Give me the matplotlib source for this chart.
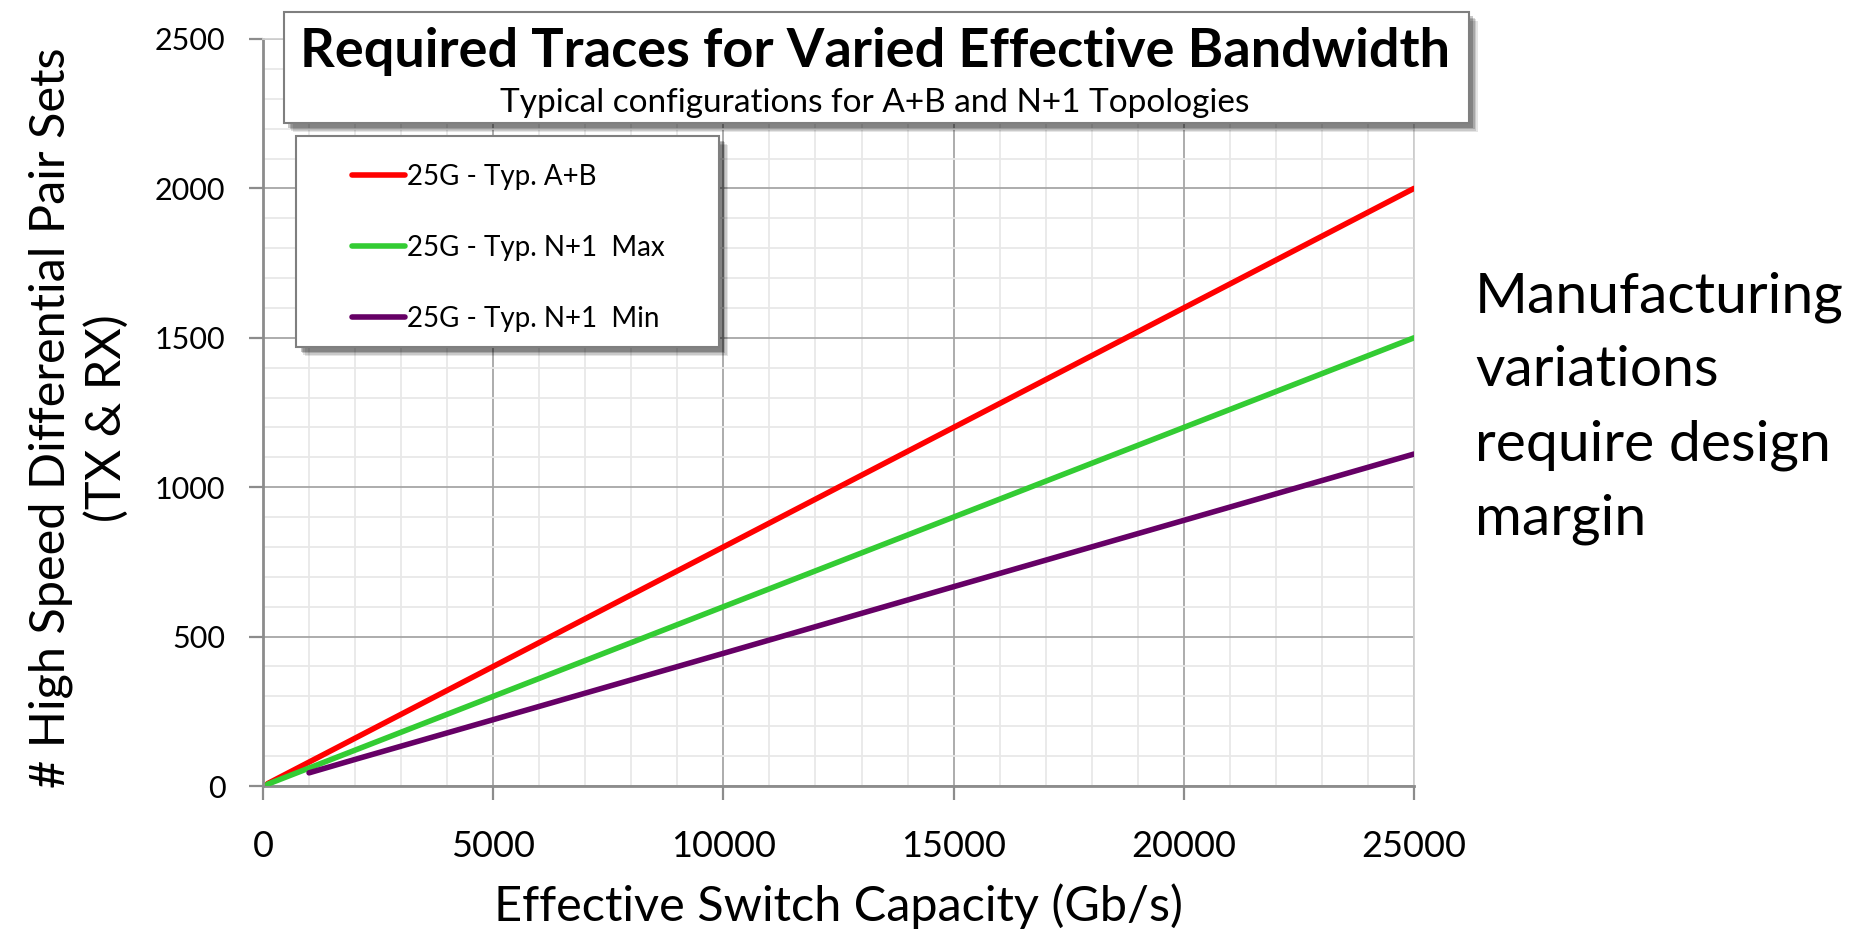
import matplotlib
matplotlib.use("Agg")
import matplotlib.pyplot as plt
from matplotlib.patches import Rectangle
from matplotlib.ticker import MultipleLocator

plt.rcParams['font.family'] = ['Lato', 'DejaVu Sans']

# switch capacity (Gb/s) vs. required differential pair sets
cap_ab = [100, 1000, 2000, 5000, 10000, 15000, 20000, 25000]
pairs_ab = [8, 80, 160, 400, 800, 1200, 1600, 2000]

cap_n1_max = [100, 1000, 2000, 5000, 10000, 15000, 20000, 25000]
pairs_n1_max = [6, 60, 120, 300, 600, 900, 1200, 1500]

cap_n1_min = [1000, 2000, 5000, 10000, 15000, 20000, 25000]
pairs_n1_min = [44, 89, 222, 444, 667, 889, 1111]

labels = ["25G - Typ. A+B", "25G - Typ. N+1  Max", "25G - Typ. N+1  Min"]
colors = ["#FF0000", "#33CC33", "#660066"]

W, H = 1858, 936
fig = plt.figure(figsize=(W / 100, H / 100), dpi=100)
ax = fig.add_axes([263 / W, 1 - 786 / H, (1414 - 263) / W, (786 - 39) / H])


def fig_box(x0, y0, x1, y1):
    # pixel box (top-left origin) -> figure fraction rectangle with soft shadow
    fx, fy = x0 / W, 1 - y1 / H
    fw, fh = (x1 - x0) / W, (y1 - y0) / H
    for i, a in enumerate([0.10, 0.12, 0.16, 0.22]):
        off = 9 - i * 1.5
        fig.patches.append(Rectangle((fx + off / W, fy - off / H), fw, fh,
                                     transform=fig.transFigure, facecolor="black",
                                     edgecolor="none", alpha=a, zorder=5))
    fig.patches.append(Rectangle((fx, fy), fw, fh, transform=fig.transFigure,
                                 facecolor="white", edgecolor="#7F7F7F",
                                 linewidth=1.5, zorder=6))


series = [(cap_ab, pairs_ab), (cap_n1_max, pairs_n1_max), (cap_n1_min, pairs_n1_min)]
handles = []
for (xs, ys), lab, col in zip(series, labels, colors):
    h, = ax.plot(xs, ys, color=col, lw=4, solid_capstyle="round", label=lab, zorder=3)
    handles.append(h)

ax.set_xlim(0, 25000)
ax.set_ylim(0, 2500)
ax.xaxis.set_major_locator(MultipleLocator(5000))
ax.xaxis.set_minor_locator(MultipleLocator(1000))
ax.yaxis.set_major_locator(MultipleLocator(500))
ax.yaxis.set_minor_locator(MultipleLocator(100))
ax.grid(which="major", color="#A6A6A6", lw=1.3)
ax.grid(which="minor", color="#E8E8E8", lw=1.3)
ax.set_axisbelow(True)

for s in ["left", "bottom"]:
    ax.spines[s].set_color("#8C8C8C")
    ax.spines[s].set_linewidth(2)
for s in ["top", "right"]:
    ax.spines[s].set_color("#D0D0D0")
    ax.spines[s].set_linewidth(1.3)

ax.tick_params(which="major", length=10, width=1.6, color="#8C8C8C")
ax.tick_params(axis="y", pad=17, labelsize=22)
ax.tick_params(axis="x", pad=22, labelsize=26)
ax.tick_params(which="minor", length=0)

ax.set_xlabel("Effective Switch Capacity (Gb/s)", fontsize=35, labelpad=14)
fig.text(79 / W, 1 - 418 / H, "# High Speed Differential Pair Sets\n(TX & RX)",
         rotation=90, ha="center", va="center", multialignment="center",
         fontsize=35, linespacing=1.3)

# title panel
fig_box(284, 12, 1469, 123)
fig.text(875 / W, 1 - 52 / H, "Required Traces for Varied Effective Bandwidth",
         ha="center", va="center", fontsize=39, fontweight="bold", zorder=7)
fig.text(875 / W, 1 - 103 / H, "Typical configurations for A+B and N+1 Topologies",
         ha="center", va="center", fontsize=24, zorder=7)

# legend panel
fig_box(296, 136, 719, 347)
leg = fig.legend(handles=handles, loc="upper left",
                 bbox_to_anchor=(338 / W, 1 - 150 / H), frameon=False,
                 fontsize=20, handlelength=1.9, handletextpad=0.1,
                 labelspacing=1.62, borderpad=0)
leg.set_zorder(8)

fig.text(1475 / W, 1 - 408 / H,
         "Manufacturing\nvariations\nrequire design\nmargin",
         ha="left", va="center", fontsize=41, linespacing=1.55)

fig.savefig("out.png", dpi=100)
